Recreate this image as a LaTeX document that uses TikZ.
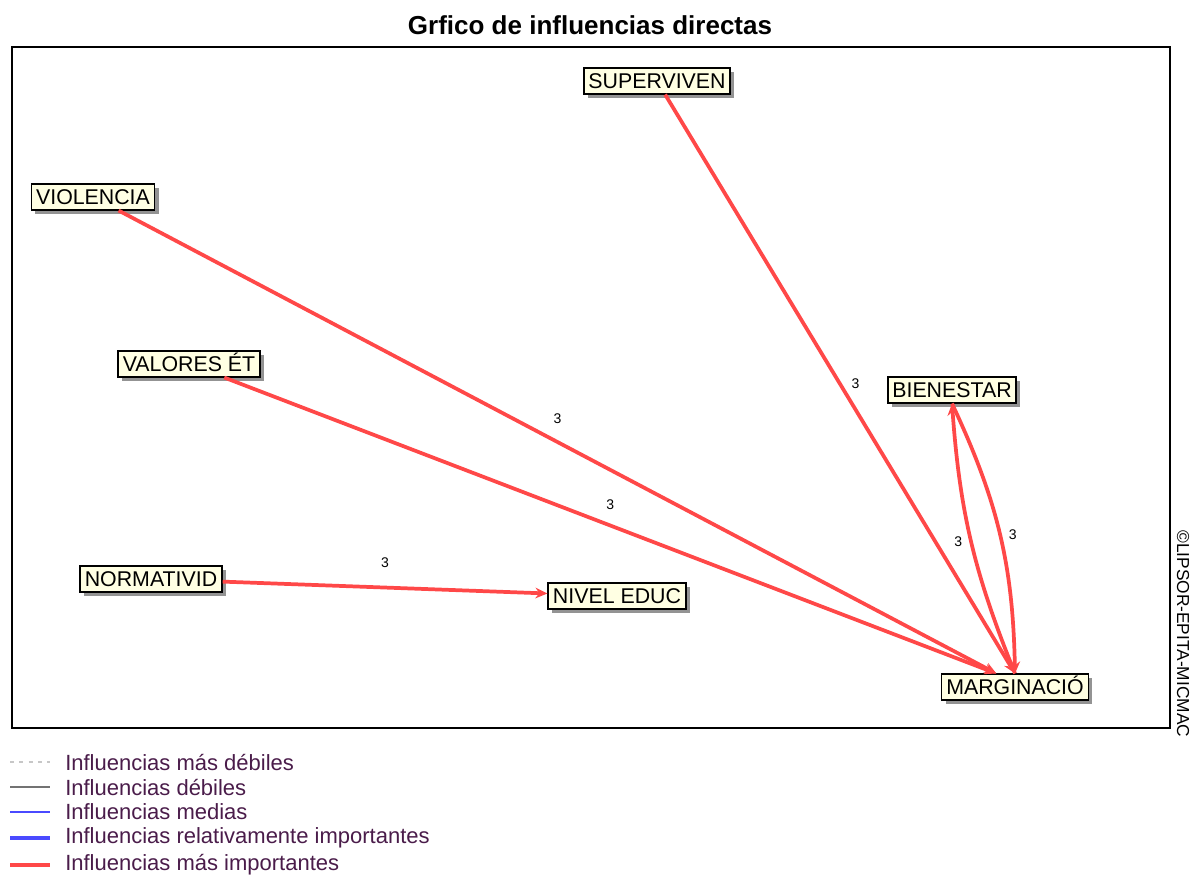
\documentclass[tikz,border=0pt]{standalone}
\usepackage{fontspec}
\setmainfont{Liberation Sans}
\usetikzlibrary{arrows.meta,shadows}
\definecolor{inflred}{HTML}{FF4848}
\definecolor{inflblue}{HTML}{4A4AFF}
\definecolor{boxfill}{HTML}{FFFFE3}
\definecolor{legtext}{HTML}{4A1C4A}
\tikzset{
  var/.style={draw=black, line width=1.3pt, fill=boxfill, inner xsep=3.5pt, inner ysep=3.5pt,
    text height=11.5pt, text depth=0.5pt, font=\fontsize{16}{18}\selectfont,
    drop shadow={shadow xshift=3pt, shadow yshift=-3pt, fill=black!50, opacity=0.85}},
  infl/.style={draw=inflred, line width=2.8pt, -{Stealth[length=9pt,width=8pt]}},
  val/.style={font=\fontsize{10.5}{12}\selectfont},
  leg/.style={anchor=west, inner sep=0pt, text=legtext, font=\fontsize{16.5}{18}\selectfont}
}
\begin{document}
\begin{tikzpicture}[x=0.75pt,y=-0.75pt]
    \useasboundingbox (0,0) rectangle (1199,876);
    % title and frame
    \node[font=\bfseries\fontsize{19.5}{22}\selectfont] (title) at (590,25) {Grfico de influencias directas};
    \draw[line width=1.3pt] (12,47) rectangle (1170,728);
    \node[rotate=-90, anchor=west, inner sep=0pt, font=\fontsize{13}{15}\selectfont] (copy) at (1183,530) {©LIPSOR-EPITA-MICMAC};
    % variables
    \node[var] (superv) at (657,81) {SUPERVIVEN};
    \node[var] (violencia) at (93,197) {VIOLENCIA};
    \node[var] (valores) at (189,364) {VALORES ÉT};
    \node[var] (bienestar) at (952,390) {BIENESTAR};
    \node[var] (normativ) at (151,579) {NORMATIVID};
    \node[var] (niveduc) at (617,596) {NIVEL EDUC};
    \node[var] (margina) at (1015,687) {MARGINACIÓ};
    % influences
    \draw[infl] (superv) -- (margina.north) node[val, midway, right=4pt] {3};
    \draw[infl] (violencia) -- ([xshift=-14pt]margina.north) node[val, midway, above=9pt] {3};
    \draw[infl] (valores) -- ([xshift=-14pt]margina.north) node[val, midway, above=7pt] {3};
    \draw[infl] (normativ) -- (niveduc) node[val, midway, above=10pt] {3};
    \draw[infl] (margina.north) to[bend left=9] node[val, midway, left=2pt] {3} (bienestar.south);
    \draw[infl] (bienestar.south) to[bend left=12] node[val, midway, right=2pt] {3} (margina.north);
    % legend
    \draw[black!22, line width=1pt, dash pattern=on 3pt off 4pt] (10,762) -- (50,762);
    \draw[black!55, line width=1.3pt] (10,787) -- (50,787);
    \draw[inflblue, line width=1.3pt] (10,812) -- (50,812);
    \draw[inflblue, line width=3pt] (10,838) -- (50,838);
    \draw[inflred, line width=3.2pt] (10,865) -- (50,865);
    \node[leg] (leg1) at (65,762) {Influencias más débiles};
    \node[leg] (leg2) at (65,787) {Influencias débiles};
    \node[leg] (leg3) at (65,812) {Influencias medias};
    \node[leg] (leg4) at (65,838) {Influencias relativamente importantes};
    \node[leg] (leg5) at (65,865) {Influencias más importantes};
\end{tikzpicture}
\end{document}
